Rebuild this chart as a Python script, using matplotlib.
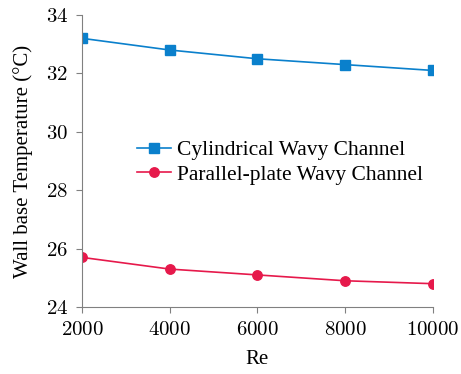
import numpy as np
import matplotlib
matplotlib.use('Agg')
import matplotlib.pyplot as plt

plt.rcParams['font.family'] = ['Liberation Serif', 'DejaVu Serif']
plt.rcParams['mathtext.fontset'] = 'cm'

re_vals = [2000, 4000, 6000, 8000, 10000]
cyl_temp = [33.2, 32.8, 32.5, 32.3, 32.1]
par_temp = [25.7, 25.3, 25.1, 24.9, 24.8]
x_ticks = [2000, 4000, 6000, 8000, 10000]
y_ticks = [24, 26, 28, 30, 32, 34]

blue = '#0a80cc'
red = '#e6194b'
grey = '#808080'

fig = plt.figure(figsize=(4.61, 3.74), dpi=100)
ax = fig.add_axes([0.178, 0.179, 0.761, 0.781])

ax.plot(re_vals, cyl_temp, color=blue, lw=1.2, marker='s', ms=6.8,
        label='Cylindrical Wavy Channel')
ax.plot(re_vals, par_temp, color=red, lw=1.2, marker='o', ms=6.8,
        label='Parallel-plate Wavy Channel')

ax.set_xlim(2000, 10000)
ax.set_ylim(24, 34)
ax.set_xticks(x_ticks)
ax.set_yticks(y_ticks)
ax.set_xticklabels(['$%d$' % v for v in x_ticks], fontsize=15)
ax.set_yticklabels(['$%d$' % v for v in y_ticks], fontsize=15)

for s in ['top', 'right']:
    ax.spines[s].set_visible(False)
for s in ['left', 'bottom']:
    ax.spines[s].set_color(grey)
    ax.spines[s].set_linewidth(0.8)
    ax.spines[s].set_clip_on(False)
ax.tick_params(direction='out', length=4, width=0.8, color=grey, pad=6)

ax.set_xlabel('Re', fontsize=15, labelpad=7)
ax.set_ylabel('Wall base Temperature (°C)', fontsize=15, labelpad=9)

ax.legend(loc='center left', bbox_to_anchor=(0.1, 0.495), frameon=False,
          fontsize=15.5, handlelength=1.6, handletextpad=0.3, labelspacing=0.2)

fig.savefig('out.png', dpi=100)
